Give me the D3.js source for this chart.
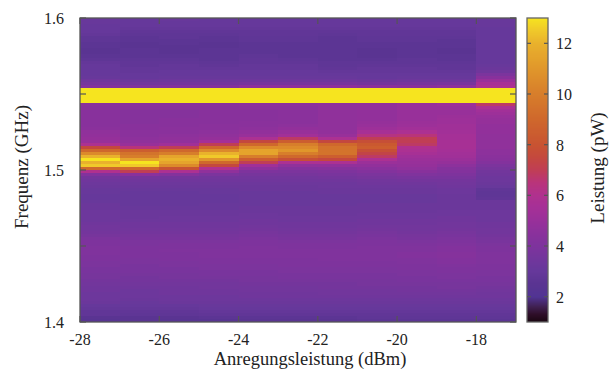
<!DOCTYPE html>
<html>
<head>
<meta charset="utf-8">
<script src="https://cdn.jsdelivr.net/npm/d3@7"></script>
<style>
  html, body { margin: 0; padding: 0; background: #ffffff; }
  svg { display: block; }
</style>
</head>
<body>
<svg id="chart" width="609" height="374"></svg>
<script>
// Excitation power of each sweep (dBm); each column spans [p, p + 1]
const powers = [-28, -27, -26, -25, -24, -23, -22, -21, -20, -19, -18];

// Frequency bins: lower edge of first bin and bin width (GHz), 100 bins up to 1.6 GHz
const freqStart = 1.4;
const freqStep = 0.002;

// Measured power spectral density (pW) per frequency bin, from 1.400 GHz upward
const spec_m28 = [
  2.4,2.5,2.8,2.8,2.9,3.0,3.2,3.3,3.3,3.3,
  3.4,3.4,3.5,3.6,3.7,3.7,3.8,3.8,3.9,3.9,
  4.0,4.0,4.1,4.1,4.1,4.0,4.0,3.9,3.7,3.6,
  3.5,3.5,3.4,3.3,3.3,3.3,3.3,3.2,3.2,3.1,
  3.0,3.0,3.1,3.1,3.2,3.3,3.4,3.6,4.2,6.0,
  9.0,12.5,12.0,13.5,12.0,10.5,9.0,7.5,5.8,5.0,
  4.9,4.8,4.7,4.5,4.4,4.4,4.4,4.4,4.4,4.4,
  4.4,4.5,15,15,15,15,15,4.2,3.7,3.4,
  3.1,3.0,3.0,3.0,3.0,2.9,2.7,2.6,2.5,2.5,
  2.6,2.6,2.7,2.7,2.9,3.0,3.0,3.0,3.1,3.1
];
const spec_m27 = [
  2.5,2.5,2.7,2.8,2.9,3.0,3.1,3.2,3.3,3.3,
  3.3,3.4,3.5,3.6,3.6,3.7,3.8,3.8,3.8,3.9,
  3.9,4.0,4.0,4.0,4.0,3.9,3.9,3.8,3.7,3.6,
  3.5,3.4,3.4,3.3,3.2,3.2,3.2,3.1,3.0,3.0,
  3.0,3.0,3.0,3.1,3.2,3.3,3.4,3.6,4.5,7.0,
  9.0,12.5,13.0,11.5,10.0,9.5,8.5,6.5,5.0,4.7,
  4.6,4.5,4.5,4.4,4.4,4.3,4.3,4.3,4.3,4.3,
  4.4,4.5,15,15,15,15,15,4.1,3.5,3.2,
  3.0,3.0,2.9,2.9,2.8,2.8,2.7,2.6,2.6,2.6,
  2.5,2.5,2.6,2.6,2.7,2.8,2.9,3.0,3.0,3.0
];
const spec_m26 = [
  2.4,2.5,2.7,2.8,2.9,3.0,3.2,3.3,3.3,3.4,
  3.4,3.4,3.5,3.6,3.7,3.7,3.8,3.8,3.9,3.9,
  4.0,4.0,4.0,4.1,4.0,4.0,3.9,3.8,3.7,3.6,
  3.5,3.4,3.4,3.3,3.3,3.2,3.2,3.1,3.0,3.0,
  3.0,3.0,3.0,3.1,3.2,3.3,3.4,3.6,4.3,5.8,
  8.0,10.5,11.5,12.0,11.5,10.0,9.0,7.0,5.3,4.8,
  4.7,4.6,4.5,4.5,4.4,4.4,4.4,4.3,4.3,4.3,
  4.4,4.5,15,15,15,15,15,4.2,3.6,3.3,
  3.1,3.0,3.0,2.9,2.9,2.8,2.7,2.6,2.5,2.5,
  2.5,2.6,2.6,2.7,2.7,2.8,2.9,3.0,3.0,3.1
];
const spec_m25 = [
  2.4,2.6,2.8,2.9,3.0,3.1,3.2,3.3,3.3,3.4,
  3.4,3.5,3.5,3.6,3.7,3.8,3.8,3.9,3.9,4.0,
  4.0,4.1,4.1,4.1,4.0,4.0,3.9,3.8,3.7,3.6,
  3.5,3.4,3.4,3.3,3.3,3.2,3.2,3.1,3.1,3.0,
  3.0,3.0,3.1,3.1,3.2,3.3,3.4,3.5,3.9,4.7,
  6.0,7.5,9.0,11.0,12.5,12.0,10.5,9.0,7.0,5.5,
  4.9,4.7,4.6,4.5,4.5,4.4,4.4,4.4,4.4,4.4,
  4.4,4.5,15,15,15,15,15,4.2,3.6,3.3,
  3.1,3.0,3.0,2.9,2.8,2.7,2.6,2.6,2.6,2.6,
  2.5,2.5,2.6,2.6,2.7,2.8,2.9,3.0,3.0,3.0
];
const spec_m24 = [
  2.5,2.6,2.8,2.9,3.0,3.1,3.2,3.3,3.4,3.4,
  3.5,3.5,3.6,3.7,3.7,3.8,3.8,3.9,3.9,4.0,
  4.0,4.1,4.1,4.1,4.1,4.0,4.0,3.9,3.8,3.7,
  3.6,3.5,3.4,3.4,3.3,3.3,3.2,3.2,3.1,3.1,
  3.1,3.1,3.1,3.2,3.2,3.3,3.4,3.5,3.7,4.0,
  4.6,5.3,7.0,8.5,10.0,11.5,11.5,10.5,9.0,7.5,
  5.8,5.0,4.8,4.6,4.5,4.5,4.4,4.4,4.4,4.4,
  4.5,4.6,15,15,15,15,15,4.6,3.7,3.3,
  3.1,3.0,3.0,2.9,2.9,2.8,2.8,2.7,2.6,2.6,
  2.6,2.6,2.7,2.7,2.8,2.8,2.9,3.0,3.0,3.0
];
const spec_m23 = [
  2.5,2.6,2.8,2.9,3.0,3.1,3.2,3.3,3.4,3.4,
  3.5,3.5,3.6,3.7,3.8,3.8,3.9,3.9,4.0,4.0,
  4.0,4.1,4.1,4.1,4.0,4.0,3.9,3.8,3.7,3.6,
  3.5,3.4,3.4,3.3,3.3,3.2,3.2,3.2,3.1,3.1,
  3.1,3.1,3.1,3.2,3.2,3.3,3.4,3.5,3.7,3.9,
  4.2,4.7,5.8,7.8,9.0,10.0,11.0,10.5,10.0,8.5,
  6.8,5.4,5.0,4.8,4.6,4.5,4.5,4.5,4.5,4.5,
  4.5,4.6,15,15,15,15,15,4.6,3.7,3.3,
  3.1,3.0,3.0,2.9,2.9,2.8,2.7,2.6,2.6,2.6,
  2.6,2.6,2.7,2.7,2.8,2.8,2.9,3.0,3.0,3.0
];
const spec_m22 = [
  2.5,2.6,2.8,2.9,3.0,3.1,3.2,3.3,3.4,3.5,
  3.5,3.6,3.6,3.7,3.8,3.8,3.9,3.9,4.0,4.0,
  4.1,4.1,4.1,4.1,4.0,4.0,3.9,3.8,3.7,3.6,
  3.5,3.4,3.4,3.3,3.3,3.2,3.2,3.2,3.1,3.1,
  3.1,3.1,3.2,3.2,3.3,3.3,3.4,3.6,3.8,4.0,
  4.3,4.8,5.8,7.5,8.5,9.5,9.5,9.5,9.0,7.5,
  5.8,5.0,4.8,4.7,4.7,4.7,4.7,4.7,4.7,4.7,
  4.7,4.7,15,15,15,15,15,4.6,3.7,3.3,
  3.1,3.0,2.9,2.8,2.7,2.7,2.6,2.6,2.6,2.6,
  2.6,2.6,2.6,2.6,2.7,2.8,2.9,3.0,3.0,3.0
];
const spec_m21 = [
  2.6,2.7,2.8,2.9,3.0,3.1,3.2,3.3,3.4,3.5,
  3.5,3.6,3.7,3.7,3.8,3.8,3.9,3.9,4.0,4.0,
  4.1,4.1,4.1,4.1,4.1,4.0,4.0,3.9,3.8,3.7,
  3.6,3.5,3.4,3.4,3.3,3.3,3.2,3.2,3.2,3.1,
  3.1,3.1,3.2,3.2,3.3,3.4,3.5,3.7,3.9,4.2,
  4.5,4.8,5.1,5.8,6.8,7.3,7.8,8.5,8.3,7.8,
  7.0,6.3,5.6,5.2,5.0,4.9,4.8,4.8,4.8,4.8,
  4.8,4.8,15,15,15,15,15,4.5,3.6,3.2,
  3.0,3.0,2.9,2.9,2.8,2.7,2.6,2.5,2.5,2.5,
  2.6,2.6,2.7,2.7,2.8,2.8,2.9,3.0,3.0,3.0
];
const spec_m20 = [
  2.6,2.7,2.8,2.9,3.0,3.1,3.2,3.3,3.4,3.5,
  3.6,3.6,3.7,3.8,3.8,3.9,3.9,4.0,4.0,4.1,
  4.1,4.2,4.2,4.1,4.1,4.0,3.9,3.8,3.7,3.6,
  3.5,3.5,3.4,3.4,3.3,3.3,3.2,3.2,3.2,3.1,
  3.1,3.1,3.2,3.2,3.3,3.4,3.6,3.8,4.1,4.4,
  4.7,4.9,5.0,5.1,5.3,5.6,5.8,6.0,6.8,7.0,
  7.0,6.5,5.8,5.4,5.2,5.1,5.0,5.0,5.0,5.0,
  5.0,5.0,15,15,15,15,15,4.4,3.7,3.3,
  3.1,3.0,2.9,2.9,2.8,2.7,2.7,2.6,2.6,2.6,
  2.6,2.6,2.7,2.7,2.8,2.8,2.9,3.0,3.0,3.0
];
const spec_m19 = [
  2.6,2.7,2.8,2.9,3.0,3.1,3.2,3.3,3.4,3.5,
  3.6,3.7,3.7,3.8,3.9,3.9,4.0,4.0,4.1,4.2,
  4.2,4.3,4.3,4.2,4.2,4.1,4.0,3.9,3.8,3.7,
  3.6,3.5,3.5,3.4,3.4,3.3,3.3,3.2,3.2,3.2,
  3.2,3.2,3.3,3.3,3.4,3.5,3.6,3.8,4.0,4.2,
  4.3,4.6,4.9,5.1,5.3,5.4,5.5,5.6,5.6,5.6,
  5.5,5.5,5.4,5.3,5.3,5.2,5.2,5.1,5.0,5.0,
  5.0,5.2,15,15,15,15,15,4.6,3.8,3.3,
  3.1,3.0,2.9,2.8,2.8,2.7,2.6,2.6,2.5,2.5,
  2.6,2.6,2.6,2.7,2.8,2.8,2.9,3.0,3.0,3.0
];
const spec_m18 = [
  2.6,2.7,2.8,2.9,3.0,3.1,3.2,3.3,3.4,3.4,
  3.5,3.6,3.7,3.8,3.8,3.9,3.9,4.0,4.0,4.1,
  4.1,4.1,4.1,4.0,4.0,3.9,3.8,3.7,3.6,3.5,
  3.5,3.4,3.4,3.3,3.3,3.3,3.3,3.2,3.2,3.2,
  2.8,2.7,2.7,2.8,3.1,3.2,3.3,3.3,3.4,3.5,
  3.7,3.9,4.2,4.4,4.5,4.6,4.6,4.7,4.7,4.7,
  4.7,4.7,4.8,4.8,4.8,4.9,4.9,5.0,5.2,5.4,
  5.8,6.8,15,15,15,15,15,5.8,5.6,5.0,
  4.4,3.9,3.4,3.2,3.1,3.0,3.0,3.0,3.0,3.0,
  3.0,3.0,3.0,3.0,3.0,3.0,3.0,3.1,3.1,3.1
];
const spectra = [spec_m28, spec_m27, spec_m26, spec_m25, spec_m24, spec_m23,
                 spec_m22, spec_m21, spec_m20, spec_m19, spec_m18];

// Axis ticks
const xTicks = [-28, -26, -24, -22, -20, -18];
const yTicks = [1.4, 1.5, 1.6];
const yMinorTicks = [1.45, 1.55];
const cbTicks = [2, 4, 6, 8, 10, 12];

// Palette: value (pW) -> colour
const paletteValues = [1.0, 1.3, 1.6, 2.0, 2.5, 3.0, 3.5, 4.0, 4.5, 5.0, 5.5, 6.0, 6.5,
                       7.0, 7.5, 8.0, 9.0, 10.0, 11.0, 12.0, 12.5, 13.0];
const paletteColors = ["#1a0612", "#2e0e28", "#3f2050", "#513493", "#5a3492", "#66389b",
                       "#72369c", "#7e339d", "#8a319c", "#98309a", "#a53097", "#b0318e",
                       "#b9347a", "#c03e55", "#c4483e", "#c85332", "#cf682c", "#d77e2b",
                       "#e0962b", "#e9b22c", "#f0c92a", "#f6e41f"];

const svg = d3.select("#chart");
const W = 609, H = 374;
const plot = { left: 80, right: 516, top: 18, bottom: 322 };
const cbar = { left: 527, right: 548, top: 18, bottom: 322 };
const axisColor = "#555555";
const textColor = "#222222";
const serif = '"Liberation Serif", "Times New Roman", serif';

svg.append("rect").attr("width", W).attr("height", H).attr("fill", "#ffffff");

const x = d3.scaleLinear().domain([-28, -17]).range([plot.left, plot.right]);
const y = d3.scaleLinear().domain([1.4, 1.6]).range([plot.bottom, plot.top]);
const color = d3.scaleLinear()
  .domain(paletteValues)
  .range(paletteColors)
  .interpolate(d3.interpolateRgb)
  .clamp(true);

// Applies the serif label style to a text selection
function label(sel, size) {
  return sel.style("font-family", serif)
    .style("font-size", size + "px")
    .style("fill", textColor);
}

// Heatmap cells
svg.append("defs").append("clipPath").attr("id", "plot-clip")
  .append("rect")
  .attr("x", plot.left).attr("y", plot.top)
  .attr("width", plot.right - plot.left).attr("height", plot.bottom - plot.top);

const cells = [];
powers.forEach((p, i) => {
  spectra[i].forEach((v, k) => {
    const f0 = freqStart + k * freqStep;
    cells.push({ p, f0, f1: f0 + freqStep, v });
  });
});

svg.append("g")
  .attr("clip-path", "url(#plot-clip)")
  .attr("shape-rendering", "crispEdges")
  .selectAll("rect")
  .data(cells)
  .join("rect")
  .attr("x", d => x(d.p))
  .attr("width", d => x(d.p + 1) - x(d.p) + 0.6)
  .attr("y", d => y(d.f1) - 0.6)
  .attr("height", d => y(d.f0) - y(d.f1) + 0.6)
  .attr("fill", d => color(d.v));

// Frame and inward ticks (mirrored on top/right)
const frame = svg.append("g");
frame.append("rect")
  .attr("x", plot.left).attr("y", plot.top)
  .attr("width", plot.right - plot.left).attr("height", plot.bottom - plot.top)
  .attr("fill", "none").attr("stroke", axisColor).attr("stroke-width", 1.3);

const tickLen = 6;
const allY = yTicks.concat(yMinorTicks);
frame.selectAll("line.xt-b").data(xTicks).join("line")
  .attr("x1", d => x(d)).attr("x2", d => x(d))
  .attr("y1", plot.bottom).attr("y2", plot.bottom - tickLen)
  .attr("stroke", axisColor).attr("stroke-width", 1.2);
frame.selectAll("line.xt-t").data(xTicks).join("line")
  .attr("x1", d => x(d)).attr("x2", d => x(d))
  .attr("y1", plot.top).attr("y2", plot.top + tickLen)
  .attr("stroke", axisColor).attr("stroke-width", 1.2);
frame.selectAll("line.yt-l").data(allY).join("line")
  .attr("x1", plot.left).attr("x2", plot.left + tickLen)
  .attr("y1", d => y(d)).attr("y2", d => y(d))
  .attr("stroke", axisColor).attr("stroke-width", 1.2);
frame.selectAll("line.yt-r").data(allY).join("line")
  .attr("x1", plot.right).attr("x2", plot.right - tickLen)
  .attr("y1", d => y(d)).attr("y2", d => y(d))
  .attr("stroke", axisColor).attr("stroke-width", 1.2);

// Tick labels
label(svg.append("g").selectAll("text").data(xTicks).join("text")
  .attr("x", d => x(d)).attr("y", 344.5)
  .attr("text-anchor", "middle"), 16)
  .text(d => d);

label(svg.append("g").selectAll("text").data(yTicks).join("text")
  .attr("x", 64).attr("y", d => y(d) + 6)
  .attr("text-anchor", "end"), 16)
  .text(d => d3.format(".1f")(d));

// Axis titles
label(svg.append("text")
  .attr("x", 310).attr("y", 365)
  .attr("text-anchor", "middle"), 18.5)
  .text("Anregungsleistung (dBm)");

label(svg.append("text")
  .attr("transform", "translate(28,167) rotate(-90)")
  .attr("text-anchor", "middle"), 19)
  .text("Frequenz (GHz)");

// Colour bar
const cy = d3.scaleLinear().domain([1, 13]).range([cbar.bottom, cbar.top]);
const cbSteps = d3.range(1, 13, 0.04);
svg.append("g").attr("shape-rendering", "crispEdges")
  .selectAll("rect").data(cbSteps).join("rect")
  .attr("x", cbar.left).attr("width", cbar.right - cbar.left)
  .attr("y", d => cy(d + 0.04) - 0.5)
  .attr("height", d => cy(d) - cy(d + 0.04) + 0.5)
  .attr("fill", d => color(d + 0.02));

const cbG = svg.append("g");
cbG.append("rect")
  .attr("x", cbar.left).attr("y", cbar.top)
  .attr("width", cbar.right - cbar.left).attr("height", cbar.bottom - cbar.top)
  .attr("fill", "none").attr("stroke", "#666666").attr("stroke-width", 1.3);
cbG.selectAll("line.cl").data(cbTicks).join("line")
  .attr("x1", cbar.left).attr("x2", cbar.left + 4)
  .attr("y1", d => cy(d)).attr("y2", d => cy(d))
  .attr("stroke", axisColor).attr("stroke-width", 1.2);
cbG.selectAll("line.cr").data(cbTicks).join("line")
  .attr("x1", cbar.right).attr("x2", cbar.right - 4)
  .attr("y1", d => cy(d)).attr("y2", d => cy(d))
  .attr("stroke", axisColor).attr("stroke-width", 1.2);
label(cbG.selectAll("text").data(cbTicks).join("text")
  .attr("x", 556).attr("y", d => cy(d) + 6), 16)
  .text(d => d);

label(svg.append("text")
  .attr("transform", "translate(604,168) rotate(-90)")
  .attr("text-anchor", "middle"), 19)
  .text("Leistung (pW)");
</script>
</body>
</html>
